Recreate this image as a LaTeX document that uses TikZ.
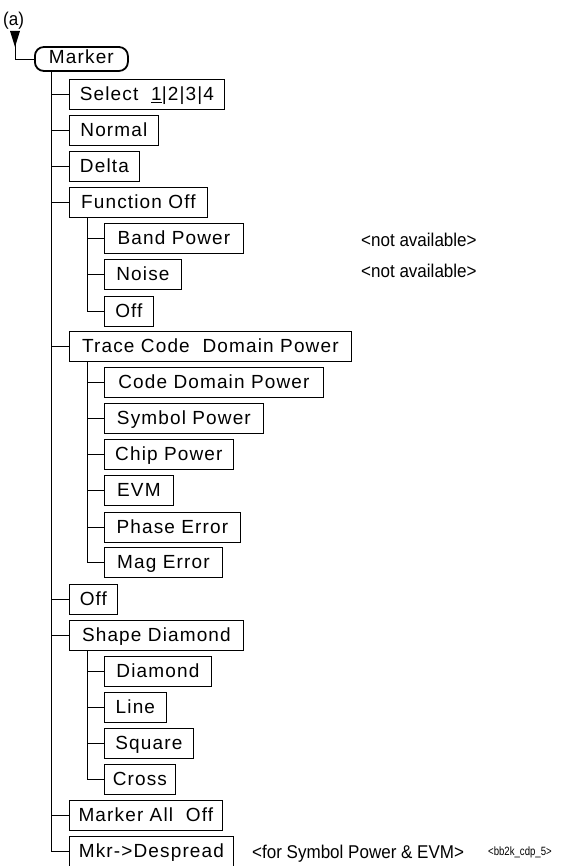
\documentclass[tikz,border=0pt]{standalone}
\usepackage{fontspec}
\setmainfont{Liberation Sans}
\newfontfamily\boxfont[LetterSpace=6]{Liberation Sans}
\newfontfamily\notefont[FakeStretch=0.92]{Liberation Sans}
\newfontfamily\tinyfont[FakeStretch=0.8]{Liberation Sans}
\begin{document}
\begin{tikzpicture}[x=1pt,y=-1pt,
  every node/.style={inner sep=0pt},
  bx/.style={draw, line width=0.8pt, anchor=west, minimum height=30pt, minimum width=#1,
    text height=21.8pt, text depth=8.2pt, inner ysep=0pt,
    font=\boxfont\fontsize{19}{22}\selectfont},
  mk/.style={draw, line width=1.8pt, anchor=west, minimum height=24pt, minimum width=93pt,
    text height=17pt, text depth=7pt, inner ysep=0pt,
    rounded corners=9pt, font=\boxfont\fontsize{19}{22}\selectfont},
  note/.style={anchor=base west, font=\notefont\fontsize{18.5}{22}\selectfont},
  tiny/.style={anchor=base west, font=\tinyfont\fontsize{12}{14}\selectfont},
  link/.style={line width=0.8pt}]
\useasboundingbox (0,0) rectangle (570,866);

\coordinate (t1) at (51,0);
\coordinate (t2) at (87,0);

\node[note] (lbl) at (3,26) {(a)};
\coordinate (ar) at (15,31);
\node[mk] (m) at (34,59) {Marker};
\fill (ar) ++(-5,0) -- ++(10,0) -- ++(-5,16) -- cycle;
\draw[link] (ar) |- (m.west);

% level 1
\node[bx=155pt] (sel) at (69,94) {Select\ \ \underline{1}|2|3|4};
\node[bx=89pt]  (nor) at (69,130) {Normal};
\node[bx=70pt]  (del) at (69,166) {Delta};
\node[bx=138pt] (fo)  at (69,202) {Function Off};
\node[bx=282pt] (tr)  at (69,346) {Trace Code\ \ Domain Power};
\node[bx=48pt]  (off) at (69,599) {Off};
\node[bx=174pt] (sh)  at (69,635) {Shape Diamond};
\node[bx=153pt] (mao) at (69,815) {Marker All\ \ Off};
\node[bx=164pt] (mkr) at (69,851) {Mkr->Despread};

% level 2 under Function Off
\node[bx=139pt] (bp)  at (104,238) {Band Power};
\node[bx=77pt]  (noi) at (104,274) {Noise};
\node[bx=49pt]  (fof) at (104,311) {Off};

% level 2 under Trace
\node[bx=219pt] (cdp) at (104,382) {Code Domain Power};
\node[bx=159pt] (sp)  at (104,418) {Symbol Power};
\node[bx=129pt] (cp)  at (104,454) {Chip Power};
\node[bx=69pt]  (evm) at (104,490) {EVM};
\node[bx=136pt] (pe)  at (104,527) {Phase Error};
\node[bx=118pt] (me)  at (104,562) {Mag Error};

% level 2 under Shape
\node[bx=107pt] (dia) at (104,671) {Diamond};
\node[bx=62pt]  (lin) at (104,707) {Line};
\node[bx=89pt]  (sq)  at (104,743) {Square};
\node[bx=71pt]  (cr)  at (104,779) {Cross};

% notes
\node[note] (na1) at (361,246.5) {<not available>};
\node[note] (na2) at (361,277) {<not available>};
\node[note] (fs)  at (252,858) {<for Symbol Power \& EVM>};
\node[tiny] (id)  at (488,855) {<bb2k\_cdp\_5>};

% trunks
\draw[link] (t1 |- m.south) -- (t1 |- mkr.west);
\foreach \n in {sel,nor,del,fo,tr,off,sh,mao,mkr}
  \draw[link] (t1 |- \n.west) -- (\n.west);

\draw[link] (t2 |- fo.south) -- (t2 |- fof.west);
\foreach \n in {bp,noi,fof}
  \draw[link] (t2 |- \n.west) -- (\n.west);

\draw[link] (t2 |- tr.south) -- (t2 |- me.west);
\foreach \n in {cdp,sp,cp,evm,pe,me}
  \draw[link] (t2 |- \n.west) -- (\n.west);

\draw[link] (t2 |- sh.south) -- (t2 |- cr.west);
\foreach \n in {dia,lin,sq,cr}
  \draw[link] (t2 |- \n.west) -- (\n.west);
\end{tikzpicture}
\end{document}
